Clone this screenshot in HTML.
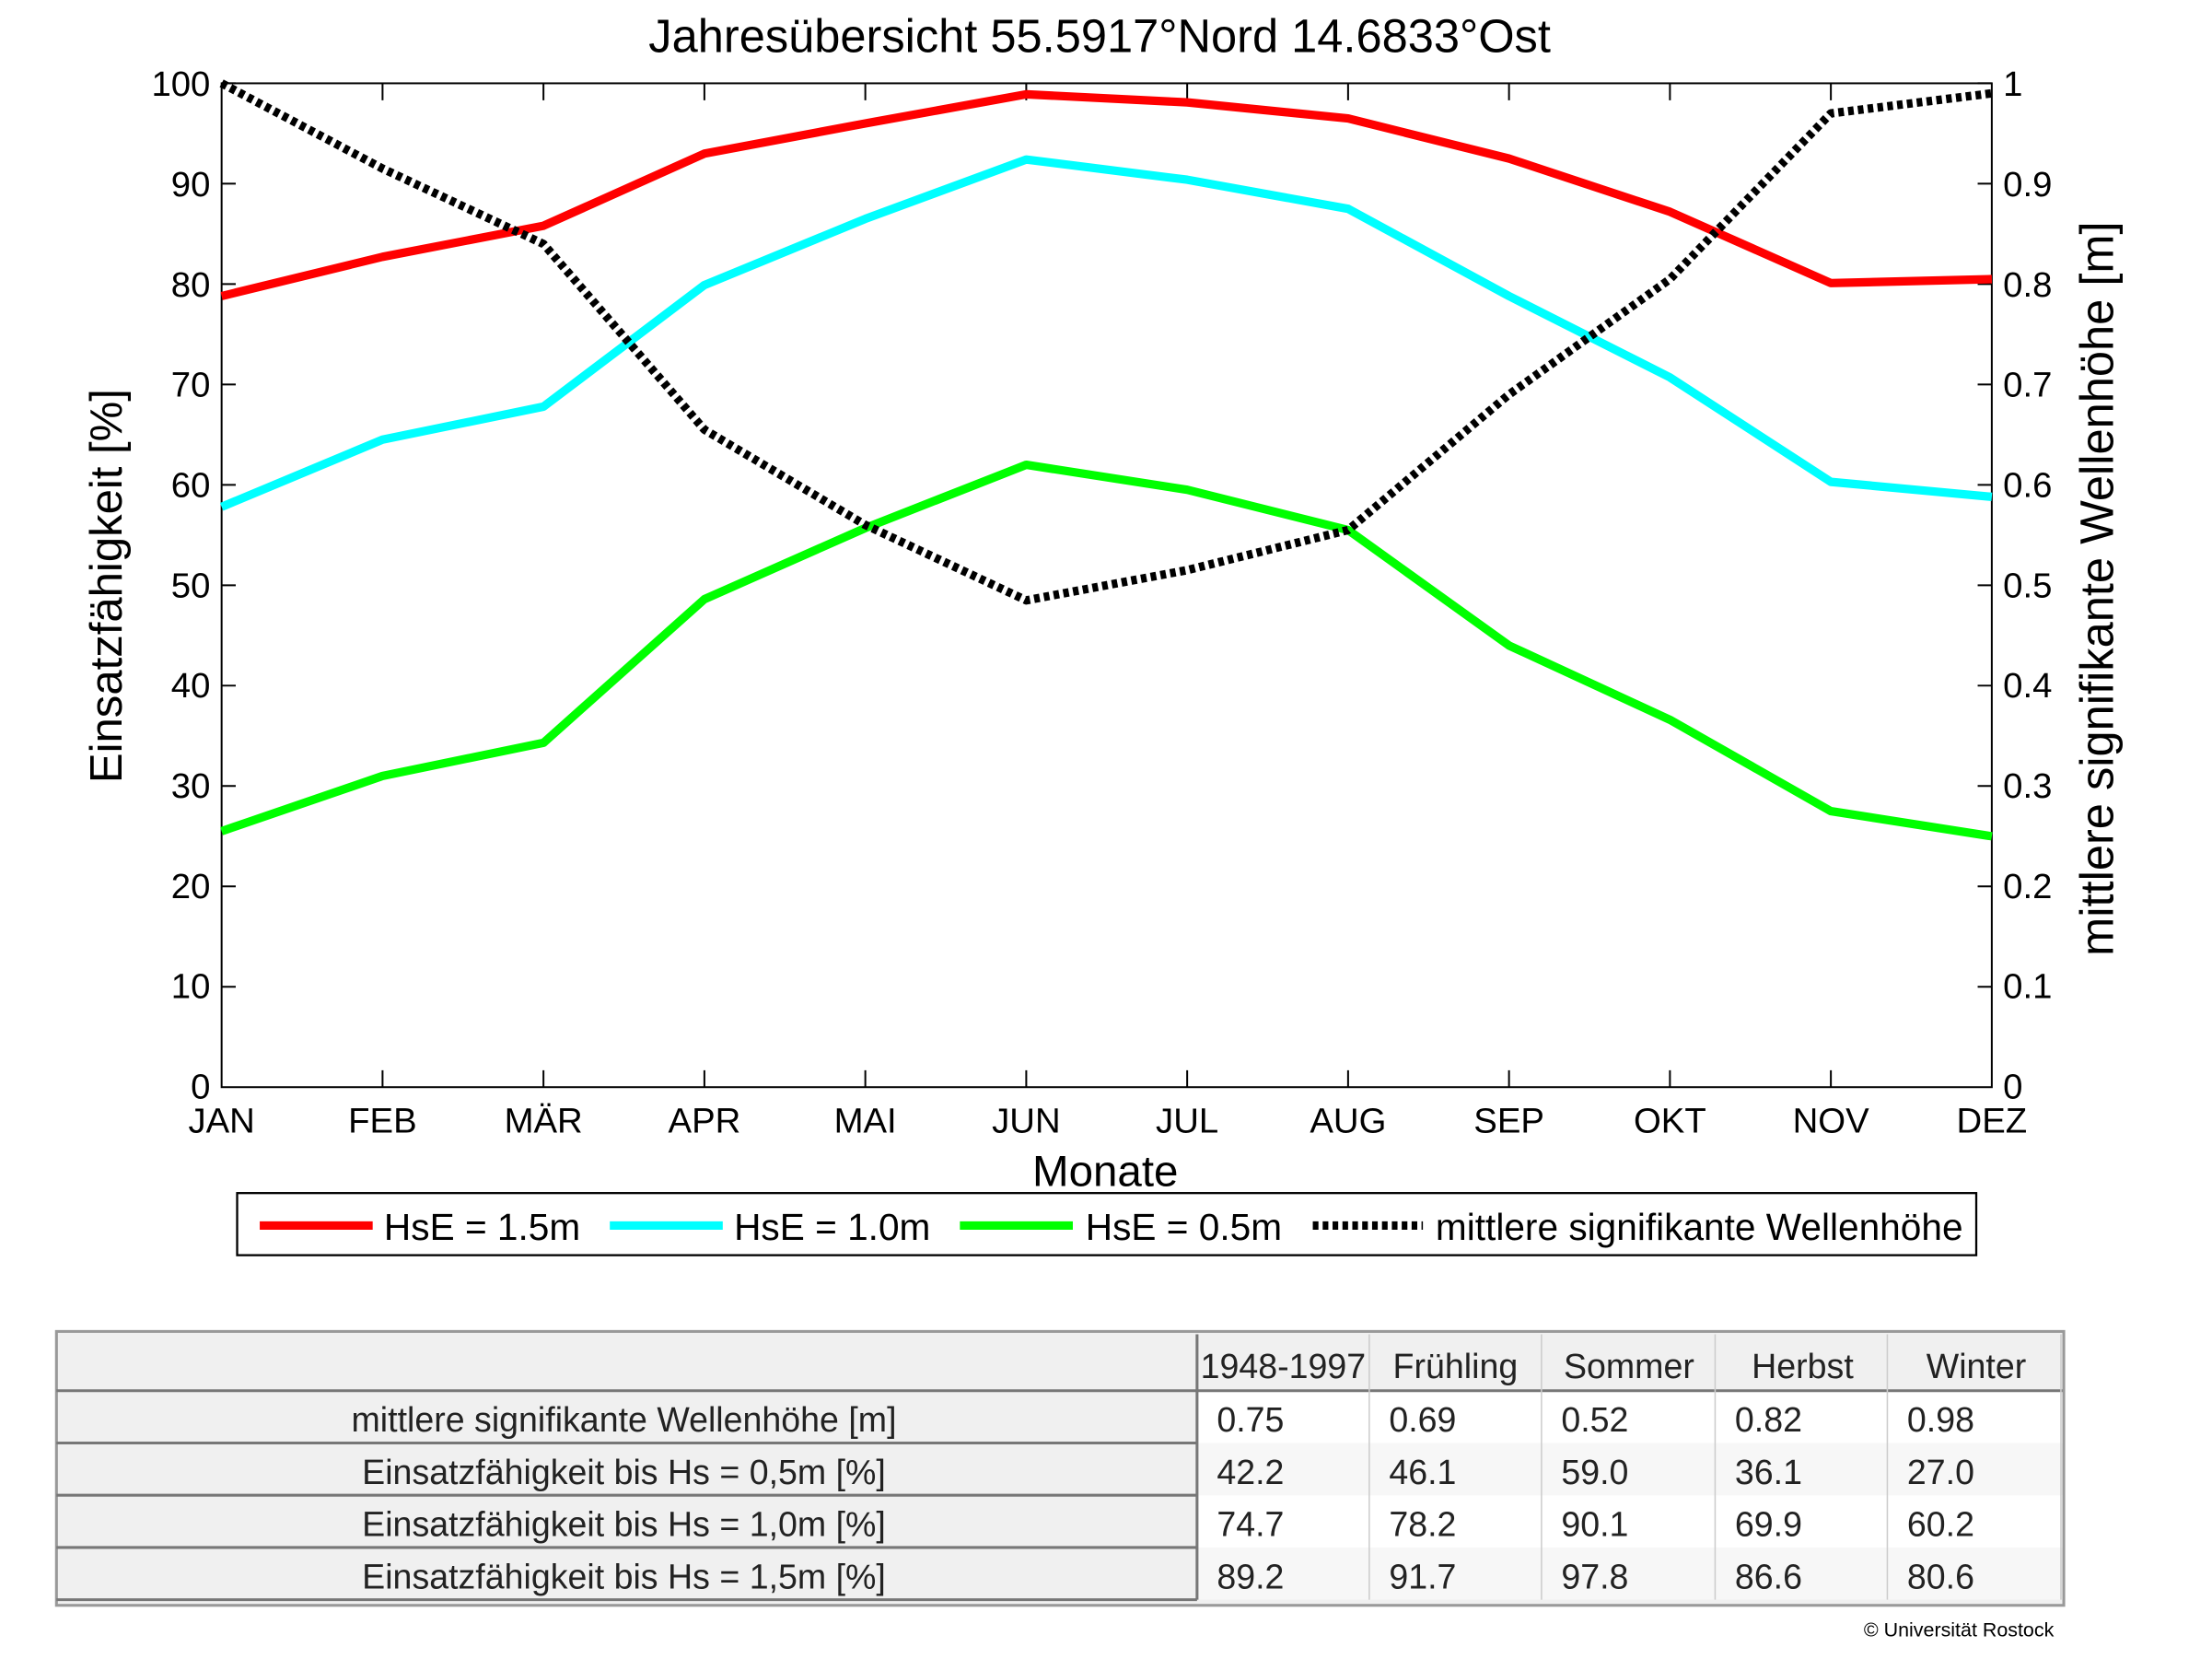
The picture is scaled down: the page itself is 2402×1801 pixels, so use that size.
<!DOCTYPE html>
<html><head><meta charset="utf-8"><style>html,body{margin:0;padding:0;background:#fff}svg{display:block}</style></head>
<body>
<svg width="2402" height="1801" viewBox="0 0 1567 1175" preserveAspectRatio="none" xmlns="http://www.w3.org/2000/svg" font-family="Liberation Sans, sans-serif">
<rect width="1567" height="1175" fill="#fff"/>
<text x="779" y="37" font-size="33" text-anchor="middle">Jahresübersicht  55.5917°Nord  14.6833°Ost</text>
<g stroke="#000" stroke-width="1.3" fill="none">
<rect x="157" y="59" width="1254" height="711"/>
<path d="M157 59h10M157 130.1h10M157 201.2h10M157 272.3h10M157 343.4h10M157 414.5h10M157 485.6h10M157 556.7h10M157 627.8h10M157 698.9h10
M1411 59h-10M1411 130.1h-10M1411 201.2h-10M1411 272.3h-10M1411 343.4h-10M1411 414.5h-10M1411 485.6h-10M1411 556.7h-10M1411 627.8h-10M1411 698.9h-10
M271 59v12M385 59v12M499 59v12M613 59v12M727 59v12M841 59v12M955 59v12M1069 59v12M1183 59v12M1297 59v12
M271 770v-12M385 770v-12M499 770v-12M613 770v-12M727 770v-12M841 770v-12M955 770v-12M1069 770v-12M1183 770v-12M1297 770v-12"/>
</g>
<g font-size="25" text-anchor="end">
<text x="149" y="68">100</text><text x="149" y="139">90</text><text x="149" y="210">80</text><text x="149" y="281">70</text><text x="149" y="352">60</text><text x="149" y="423">50</text><text x="149" y="494">40</text><text x="149" y="565">30</text><text x="149" y="636">20</text><text x="149" y="707">10</text><text x="149" y="778">0</text>
</g>
<g font-size="25">
<text x="1419" y="68">1</text><text x="1419" y="139">0.9</text><text x="1419" y="210">0.8</text><text x="1419" y="281">0.7</text><text x="1419" y="352">0.6</text><text x="1419" y="423">0.5</text><text x="1419" y="494">0.4</text><text x="1419" y="565">0.3</text><text x="1419" y="636">0.2</text><text x="1419" y="707">0.1</text><text x="1419" y="778">0</text>
</g>
<g font-size="25" text-anchor="middle">
<text x="157" y="802">JAN</text><text x="271" y="802">FEB</text><text x="385" y="802">MÄR</text><text x="499" y="802">APR</text><text x="613" y="802">MAI</text><text x="727" y="802">JUN</text><text x="841" y="802">JUL</text><text x="955" y="802">AUG</text><text x="1069" y="802">SEP</text><text x="1183" y="802">OKT</text><text x="1297" y="802">NOV</text><text x="1411" y="802">DEZ</text>
<text x="783" y="840" font-size="31">Monate</text>
<text transform="translate(86,415) rotate(-90)" font-size="32">Einsatzfähigkeit [%]</text>
<text transform="translate(1497,417) rotate(-90)" font-size="33">mittlere signifikante Wellenhöhe [m]</text>
</g>
<g fill="none" stroke-width="6" stroke-linejoin="round">
<polyline stroke="#ff0000" points="157,209.7 271,181.9 385,159.9 499,108.8 613,87.4 727,66.8 841,72.5 955,83.9 1069,112.3 1183,150 1297,200.5 1411,197.7"/>
<polyline stroke="#00ffff" points="157,359 271,311.4 385,288 499,201.9 613,155 727,113 841,127.3 955,147.9 1069,209.7 1183,267.3 1297,341.3 1411,351.9" />
<polyline stroke="#00ff00" points="157,588.7 271,549.6 385,526.1 499,424.4 613,374 727,329.2 841,346.9 955,375.4 1069,457.2 1183,509.8 1297,574.5 1411,592.3"/>
<polyline stroke="#000" stroke-dasharray="4,3" points="157,59 271,119.4 385,172.8 499,304.3 613,371.8 727,425.2 841,403.8 955,375.4 1069,279.4 1183,197.7 1297,80.3 1411,66.1"/>
</g>
<rect x="168" y="845" width="1232" height="44" fill="#fff" stroke="#000" stroke-width="1.5"/>
<g stroke-width="6">
<line x1="184" y1="868" x2="264" y2="868" stroke="#ff0000"/>
<line x1="432" y1="868" x2="512" y2="868" stroke="#00ffff"/>
<line x1="680" y1="868" x2="760" y2="868" stroke="#00ff00"/>
<line x1="930" y1="868" x2="1008" y2="868" stroke="#000" stroke-dasharray="4,3"/>
</g>
<g font-size="26.5">
<text x="272" y="878">HsE = 1.5m</text><text x="520" y="878">HsE = 1.0m</text><text x="769" y="878">HsE = 0.5m</text><text x="1017" y="878">mittlere signifikante Wellenhöhe</text>
</g>
<rect x="40" y="943" width="1422" height="194" fill="#f0f0f0" stroke="#999" stroke-width="2"/>
<rect x="848" y="985" width="613" height="37" fill="#fff"/>
<rect x="848" y="1022" width="613" height="37" fill="#f7f7f7"/>
<rect x="848" y="1059" width="613" height="37" fill="#fff"/>
<rect x="848" y="1096" width="613" height="37" fill="#f7f7f7"/>
<g stroke="#777" stroke-width="2">
<line x1="40" y1="985" x2="1461" y2="985"/>
<line x1="40" y1="1022" x2="848" y2="1022"/><line x1="40" y1="1059" x2="848" y2="1059"/><line x1="40" y1="1096" x2="848" y2="1096"/><line x1="40" y1="1133" x2="848" y2="1133"/>
<line x1="848" y1="945" x2="848" y2="1133"/>
</g>
<g stroke="#ccc" stroke-width="1">
<line x1="970" y1="945" x2="970" y2="1133"/><line x1="1092" y1="945" x2="1092" y2="1133"/><line x1="1215" y1="945" x2="1215" y2="1133"/><line x1="1337" y1="945" x2="1337" y2="1133"/><line x1="1460" y1="945" x2="1460" y2="1133"/>
</g>
<g font-size="24.5" fill="#222">
<text x="909" y="976" text-anchor="middle">1948-1997</text><text x="1031" y="976" text-anchor="middle">Frühling</text><text x="1154" y="976" text-anchor="middle">Sommer</text><text x="1277" y="976" text-anchor="middle">Herbst</text><text x="1400" y="976" text-anchor="middle">Winter</text>
<text x="442" y="1014" text-anchor="middle">mittlere signifikante Wellenhöhe [m]</text>
<text x="442" y="1051" text-anchor="middle">Einsatzfähigkeit bis Hs = 0,5m [%]</text>
<text x="442" y="1088" text-anchor="middle">Einsatzfähigkeit bis Hs = 1,0m [%]</text>
<text x="442" y="1125" text-anchor="middle">Einsatzfähigkeit bis Hs = 1,5m [%]</text>
<text x="862" y="1014">0.75</text><text x="984" y="1014">0.69</text><text x="1106" y="1014">0.52</text><text x="1229" y="1014">0.82</text><text x="1351" y="1014">0.98</text>
<text x="862" y="1051">42.2</text><text x="984" y="1051">46.1</text><text x="1106" y="1051">59.0</text><text x="1229" y="1051">36.1</text><text x="1351" y="1051">27.0</text>
<text x="862" y="1088">74.7</text><text x="984" y="1088">78.2</text><text x="1106" y="1088">90.1</text><text x="1229" y="1088">69.9</text><text x="1351" y="1088">60.2</text>
<text x="862" y="1125">89.2</text><text x="984" y="1125">91.7</text><text x="1106" y="1125">97.8</text><text x="1229" y="1125">86.6</text><text x="1351" y="1125">80.6</text>
</g>
<text x="1455" y="1159" font-size="14" text-anchor="end">© Universität Rostock</text>
</svg>
</body></html>
